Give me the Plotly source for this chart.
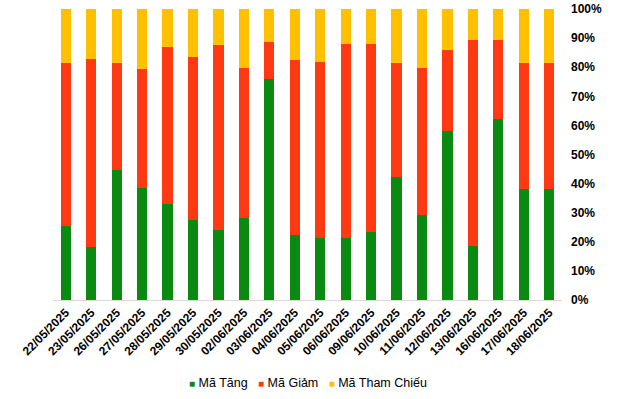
import plotly.graph_objects as go

dates = ["22/05/2025", "23/05/2025", "26/05/2025", "27/05/2025", "28/05/2025",
         "29/05/2025", "30/05/2025", "02/06/2025", "03/06/2025", "04/06/2025",
         "05/06/2025", "06/06/2025", "09/06/2025", "10/06/2025", "11/06/2025",
         "12/06/2025", "13/06/2025", "16/06/2025", "17/06/2025", "18/06/2025"]

tang = [25.5, 18.2, 44.8, 38.6, 33.1, 27.6, 24.2, 28.3, 75.9, 22.3,
        21.4, 21.4, 23.5, 42.3, 29.2, 58.1, 18.7, 62.3, 38.1, 38.1]
giam = [56.1, 64.6, 36.8, 40.8, 53.8, 55.9, 63.4, 51.4, 12.8, 60.2,
        60.4, 66.7, 64.6, 39.3, 50.5, 27.8, 70.6, 27.0, 43.5, 43.5]
tham_chieu = [round(100 - a - b, 1) for a, b in zip(tang, giam)]

names = ["Mã Tăng", "Mã Giảm", "Mã Tham Chiếu"]
colors = ["#0B8A12", "#FF3A12", "#FFC000"]

fig = go.Figure()
for name, vals, col in zip(names, [tang, giam, tham_chieu], colors):
    fig.add_trace(go.Bar(x=dates, y=vals, name=name, marker_color=col,
                         marker_line_width=0, showlegend=False))

legend_html = "&nbsp;&nbsp;&nbsp;".join(
    f"<span style='color:{c};font-size:10px'>■</span> {n}" for n, c in zip(names, colors)
)
fig.add_annotation(text=legend_html, xref="paper", yref="paper", x=0.5, y=-0.285,
                   xanchor="center", yanchor="middle", showarrow=False,
                   font=dict(size=12.5, color="#000000"))

fig.update_layout(
    barmode="stack",
    bargap=0.6,
    width=641, height=399,
    margin=dict(l=53, r=79, t=9, b=99),
    paper_bgcolor="white", plot_bgcolor="white",
    font=dict(family="Arial, Liberation Sans, sans-serif", color="#000000"),
    showlegend=False,
)
fig.update_xaxes(
    tickangle=-45,
    tickfont=dict(size=12, weight="bold", color="#000000"),
    showgrid=False, showline=True, linecolor="#D9D9D9", linewidth=1,
    ticks="", fixedrange=True, automargin=False,
)
fig.update_yaxes(
    side="right",
    range=[0, 100],
    tickvals=list(range(0, 101, 10)),
    ticktext=[f"{v}%" for v in range(0, 101, 10)],
    tickfont=dict(size=12, weight="bold", color="#000000"),
    showgrid=False, zeroline=False, showline=False,
    ticks="", ticklabelstandoff=8, automargin=False,
)

fig.write_html("out.html", config={"displayModeBar": False},
               post_script="document.body.style.margin='0';")
